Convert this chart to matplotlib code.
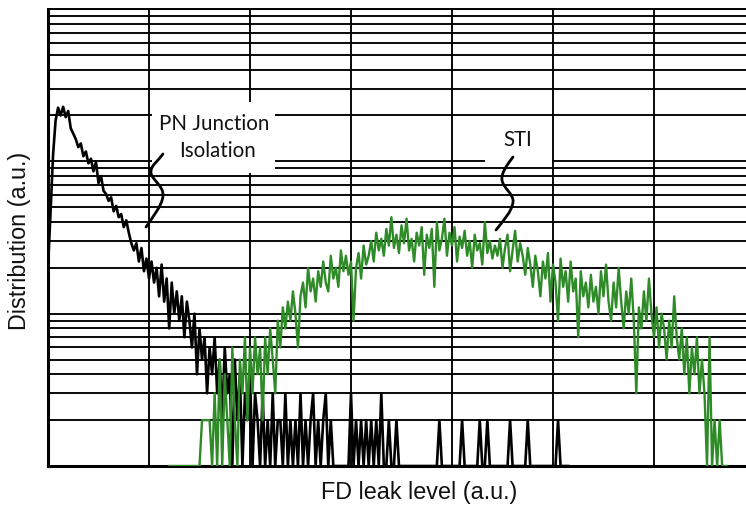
import numpy as np
import matplotlib
matplotlib.use("Agg")
import matplotlib.pyplot as plt
from matplotlib.ticker import LogLocator, NullFormatter, FixedLocator
from matplotlib.path import Path
from matplotlib.patches import PathPatch, Rectangle

# ---------------- data (counts per leak-level bin) ----------------
black_start = 0
black_counts = [
    20, 46, 110, 185, 225, 200, 228, 195, 214, 165,
    152, 140, 124, 131, 108, 116, 97, 104, 86, 99,
    72, 80, 64, 61, 55, 58, 47, 51, 43, 45,
    37, 41, 34, 29, 26, 29, 22, 27, 19, 23,
    17, 22, 16, 20, 13, 21, 12, 17, 8, 16,
    10, 14, 9, 13, 7, 12, 9, 6, 10, 4,
    8, 5, 7, 3, 6, 4, 7, 3, 5, 2,
    6, 3, 4, 1, 5, 2, 4, 1, 3, 2,
    4, 1, 3, 2, 1, 3, 1, 2, 1, 3,
    1, 2, 2, 1, 3, 1, 2, 1, 2, 1,
    3, 1, 2, 1, 2, 3, 1, 2, 1, 2,
    3, 1, 2, 1, 1, 1, 1, 1, 1, 1,
    3, 1, 2, 1, 2, 1, 2, 1, 2, 1,
    2, 1, 3, 1, 1, 2, 1, 1, 2, 1,
    1, 1, 1, 1, 1, 1, 1, 1, 1, 1,
    1, 1, 1, 1, 1, 2, 1, 1, 1, 1,
    1, 1, 1, 1, 2, 1, 1, 1, 1, 1,
    1, 2, 1, 1, 2, 1, 1, 1, 1, 1,
    1, 1, 1, 2, 1, 1, 1, 1, 1, 1,
    2, 1, 1, 1, 1, 1, 1, 1, 1, 1,
    1, 1, 2, 1, 1, 1, 1,
]

green_start = 48
green_counts = [
    1, 1, 1, 1, 1, 1, 1, 1, 1, 1, 1, 1, 1,
    2, 2, 2, 2,
    1, 3, 1, 5, 1,
    4, 2, 1, 6, 2, 1, 5, 3, 7, 2,
    6, 3, 7, 4, 6, 2, 7, 4, 8, 5,
    3, 9, 6, 11, 8, 12, 9, 14, 10, 6,
    13, 16, 11, 20, 14, 17, 12, 19, 15, 22,
    16, 14, 24, 17, 20, 15, 26, 19, 24, 18,
    22, 9, 20, 25, 17, 28, 21, 24, 30, 22,
    34, 26, 31, 24, 36, 28, 43, 27, 33, 25,
    38, 29, 42, 26, 31, 22, 34, 28, 37, 18,
    33, 27, 36, 15, 40, 26, 31, 42, 24, 34,
    28, 37, 22, 32, 27, 35, 24, 30, 20, 33,
    26, 29, 21, 40, 25, 30, 23, 28, 24, 31,
    20, 27, 33, 19, 26, 35, 22, 29, 24, 18,
    27, 21, 15, 24, 19, 13, 22, 17, 25, 12,
    21, 16, 9, 23, 15, 19, 12, 22, 14, 17,
    7, 19, 13, 16, 11, 18, 12, 15, 10, 19,
    13, 21, 12, 9, 16, 11, 20, 12, 8, 14,
    10, 17, 9, 3, 11, 8, 14, 9, 17, 10,
    7, 11, 6, 10, 8, 5, 9, 6, 13, 7,
    5, 8, 4, 7, 3, 6, 4, 7, 3, 5,
    3, 1, 7, 1, 2, 1, 2, 1, 1, 1,
]

x_grid = [40, 80, 120, 160, 200, 240]
x_label = "FD leak level (a.u.)"
y_label = "Distribution (a.u.)"
labels = {"pn": "PN Junction\nIsolation", "sti": "STI"}

# ---------------- figure ----------------
W, H = 746, 509
fig = plt.figure(figsize=(W / 100, H / 100), dpi=100)
ax = fig.add_axes([48 / W, 43 / H, 707 / W, 457 / H])

xb = black_start + np.arange(len(black_counts))
xg = green_start + np.arange(len(green_counts))
ax.plot(xb, black_counts, color="black", lw=1.9, zorder=3)
ax.plot(xg, green_counts, color="#2e8b27", lw=1.7, zorder=4)

ax.set_yscale("log")
ax.set_ylim(1, 1000)
ax.set_xlim(0, 280)
ax.yaxis.set_major_locator(LogLocator(base=10, numticks=10))
ax.yaxis.set_minor_locator(LogLocator(base=10, subs=np.arange(2, 10), numticks=20))
ax.yaxis.set_minor_formatter(NullFormatter())
ax.xaxis.set_major_locator(FixedLocator(x_grid))
ax.tick_params(which="both", length=0, labelleft=False, labelbottom=False)
ax.grid(True, which="both", axis="y", color="#000000", lw=1.35)
ax.grid(True, which="major", axis="x", color="#000000", lw=1.35)
ax.set_axisbelow(True)
for s in ["left", "bottom"]:
    ax.spines[s].set_linewidth(2.2)
ax.spines["top"].set_linewidth(1.4)
ax.spines["right"].set_visible(False)


def fp(px, py):
    return (px / W, 1 - py / H)


# white label boxes
for (x0, y0, x1, y1) in [(151.5, 102, 275, 173), (485, 126, 552, 165)]:
    bx, by = fp(x0, y1)
    fig.add_artist(Rectangle((bx, by), (x1 - x0) / W, (y1 - y0) / H,
                             transform=fig.transFigure, facecolor="white",
                             edgecolor="none", zorder=5))

tfont = dict(family=["Lato", "DejaVu Sans"], fontsize=14.8, color="#111111", zorder=6)
fig.text(*fp(214, 124), "PN Junction", ha="center", va="center", **tfont)
fig.text(*fp(217, 151), "Isolation", ha="center", va="center", **tfont)
fig.text(*fp(518, 140), labels["sti"], ha="center", va="center", **tfont)


def squiggle(pts):
    verts = [fp(*p) for p in pts]
    codes = [Path.MOVETO] + [Path.CURVE4] * (len(verts) - 1)
    fig.add_artist(PathPatch(Path(verts, codes), transform=fig.transFigure,
                             fill=False, edgecolor="black", lw=2.0, zorder=7,
                             capstyle="round"))


squiggle([(163, 154), (158, 161), (150, 166), (151, 173),
          (152, 180), (164, 186), (163, 196),
          (162, 206), (152, 218), (146, 227)])
squiggle([(513, 157), (507, 165), (501, 173), (502, 180),
          (503, 188), (514, 194), (513, 202),
          (512, 212), (502, 222), (496, 230)])

lfont = dict(family=["Liberation Sans", "DejaVu Sans"], fontsize=16.8, color="#111111")
fig.text(*fp(419, 493), x_label, ha="center", va="center", **lfont)
fig.text(*fp(20, 241), y_label, ha="center", va="center", rotation=90, **lfont)

fig.savefig("out.png", dpi=100)
